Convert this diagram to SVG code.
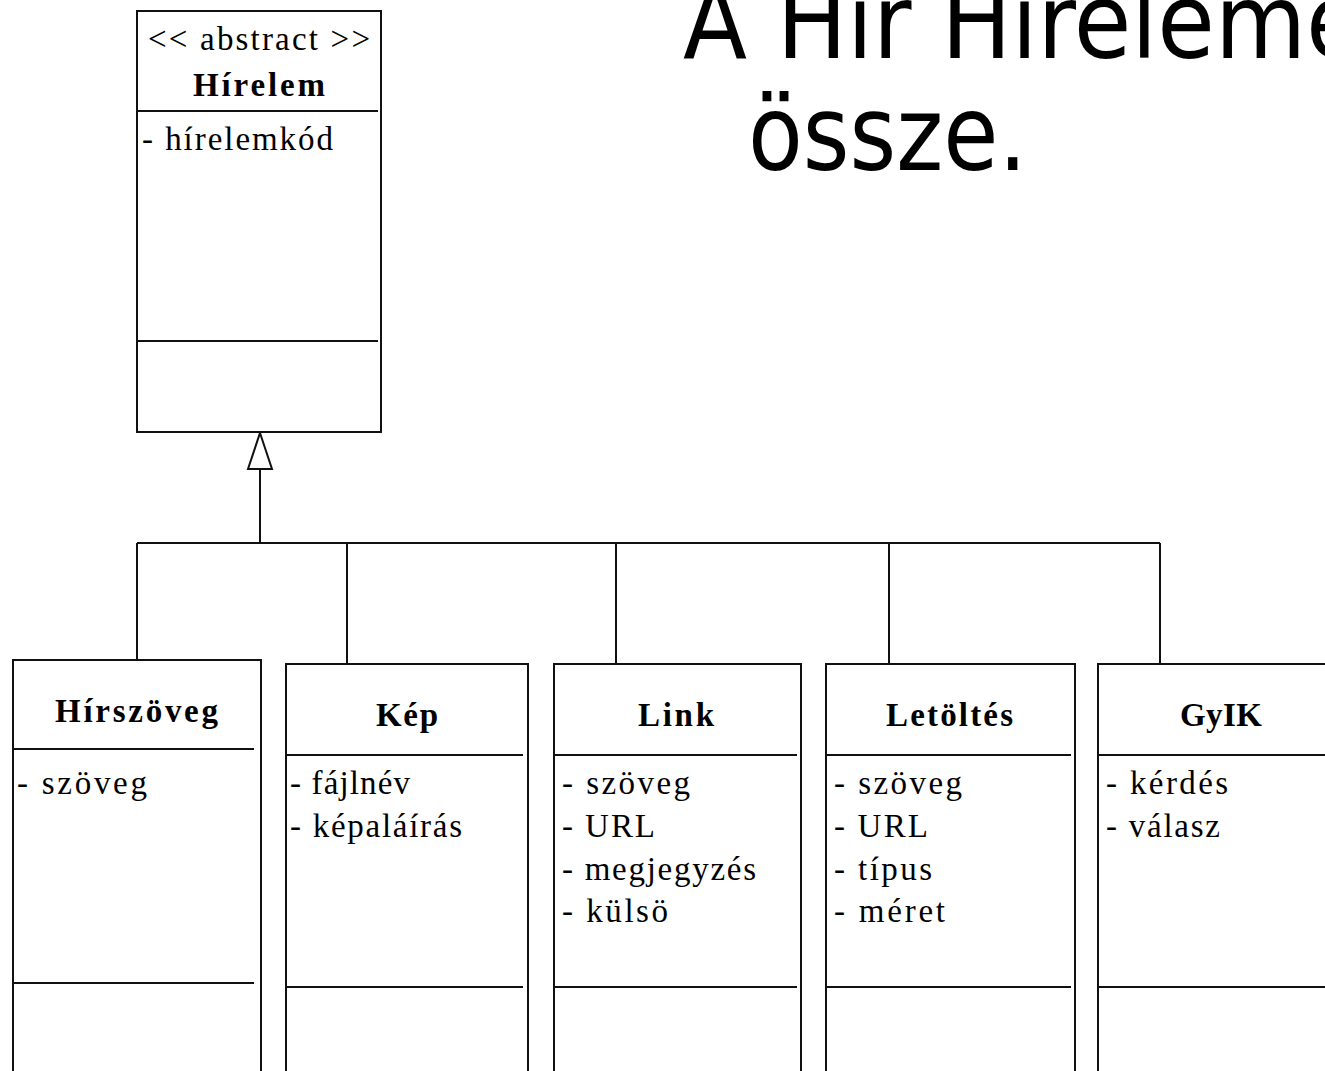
<svg xmlns="http://www.w3.org/2000/svg" width="1325" height="1071" viewBox="0 0 1325 1071">
<style>
.box{fill:#fff;stroke:#111;stroke-width:2}
.div{stroke:#111;stroke-width:2}
.con{fill:none;stroke:#111;stroke-width:2}
.t{font-family:"Liberation Serif","DejaVu Serif",serif;font-size:33px;fill:#000}
.b{font-family:"Liberation Serif","DejaVu Serif",serif;font-size:33px;font-weight:bold;fill:#000}
.h{font-family:"DejaVu Sans Condensed","DejaVu Sans",sans-serif;font-stretch:condensed;font-size:104px;fill:#000}
</style>
<rect x="0" y="0" width="1325" height="1071" fill="#fff"/>
<g id="title">
<text class="h" x="683" y="58">A Hír Híreleme</text>
<text class="h" x="748" y="170" textLength="279" lengthAdjust="spacingAndGlyphs">össze.</text>
</g>
<g id="connectors">
<path class="con" d="M260,469 V543 M137,543 H1160 M137,543 V660 M347,543 V664 M616,543 V664 M889,543 V664 M1160,543 V664"/>
<polygon points="260,433 272,469 248,469" fill="#fff" stroke="#111" stroke-width="2"/>
</g>
<g id="hirelem">
<rect class="box" x="137" y="11" width="244" height="421"/>
<line class="div" x1="137" y1="111" x2="378" y2="111"/>
<line class="div" x1="137" y1="341" x2="378" y2="341"/>
<text class="t" x="148" y="50" textLength="222" lengthAdjust="spacing">&lt;&lt; abstract &gt;&gt;</text>
<text class="b" x="193" y="96" textLength="132" lengthAdjust="spacing">Hírelem</text>
<text class="t" x="142" y="150" textLength="191" lengthAdjust="spacing">- hírelemkód</text>
</g>
<g id="hirszoveg">
<rect class="box" x="13" y="660" width="248" height="430"/>
<line class="div" x1="13" y1="749" x2="254" y2="749"/>
<line class="div" x1="13" y1="983" x2="254" y2="983"/>
<text class="b" x="55" y="722" textLength="163" lengthAdjust="spacing">Hírszöveg</text>
<text class="t" x="17" y="794" textLength="130" lengthAdjust="spacing">- szöveg</text>
</g>
<g id="kep">
<rect class="box" x="286" y="664" width="242" height="430"/>
<line class="div" x1="286" y1="755" x2="523" y2="755"/>
<line class="div" x1="286" y1="987" x2="523" y2="987"/>
<text class="b" x="376" y="726" textLength="62" lengthAdjust="spacing">Kép</text>
<text class="t" x="290" y="794" textLength="120" lengthAdjust="spacing">- fájlnév</text>
<text class="t" x="290" y="837" textLength="172" lengthAdjust="spacing">- képaláírás</text>
</g>
<g id="link">
<rect class="box" x="554" y="664" width="247" height="430"/>
<line class="div" x1="554" y1="755" x2="797" y2="755"/>
<line class="div" x1="554" y1="987" x2="797" y2="987"/>
<text class="b" x="638" y="726" textLength="76" lengthAdjust="spacing">Link</text>
<text class="t" x="562" y="794" textLength="128" lengthAdjust="spacing">- szöveg</text>
<text class="t" x="562" y="837" textLength="93" lengthAdjust="spacing">- URL</text>
<text class="t" x="562" y="880" textLength="194" lengthAdjust="spacing">- megjegyzés</text>
<text class="t" x="562" y="922" textLength="106" lengthAdjust="spacing">- külsö</text>
</g>
<g id="letoltes">
<rect class="box" x="826" y="664" width="249" height="430"/>
<line class="div" x1="826" y1="755" x2="1071" y2="755"/>
<line class="div" x1="826" y1="987" x2="1071" y2="987"/>
<text class="b" x="886" y="726" textLength="127" lengthAdjust="spacing">Letöltés</text>
<text class="t" x="834" y="794" textLength="128" lengthAdjust="spacing">- szöveg</text>
<text class="t" x="834" y="837" textLength="94" lengthAdjust="spacing">- URL</text>
<text class="t" x="834" y="880" textLength="98" lengthAdjust="spacing">- típus</text>
<text class="t" x="834" y="922" textLength="111" lengthAdjust="spacing">- méret</text>
</g>
<g id="gyik">
<rect class="box" x="1098" y="664" width="240" height="430"/>
<line class="div" x1="1098" y1="755" x2="1338" y2="755"/>
<line class="div" x1="1098" y1="987" x2="1338" y2="987"/>
<text class="b" x="1180" y="726" textLength="82" lengthAdjust="spacing">GyIK</text>
<text class="t" x="1106" y="794" textLength="122" lengthAdjust="spacing">- kérdés</text>
<text class="t" x="1106" y="837" textLength="114" lengthAdjust="spacing">- válasz</text>
</g>
</svg>
